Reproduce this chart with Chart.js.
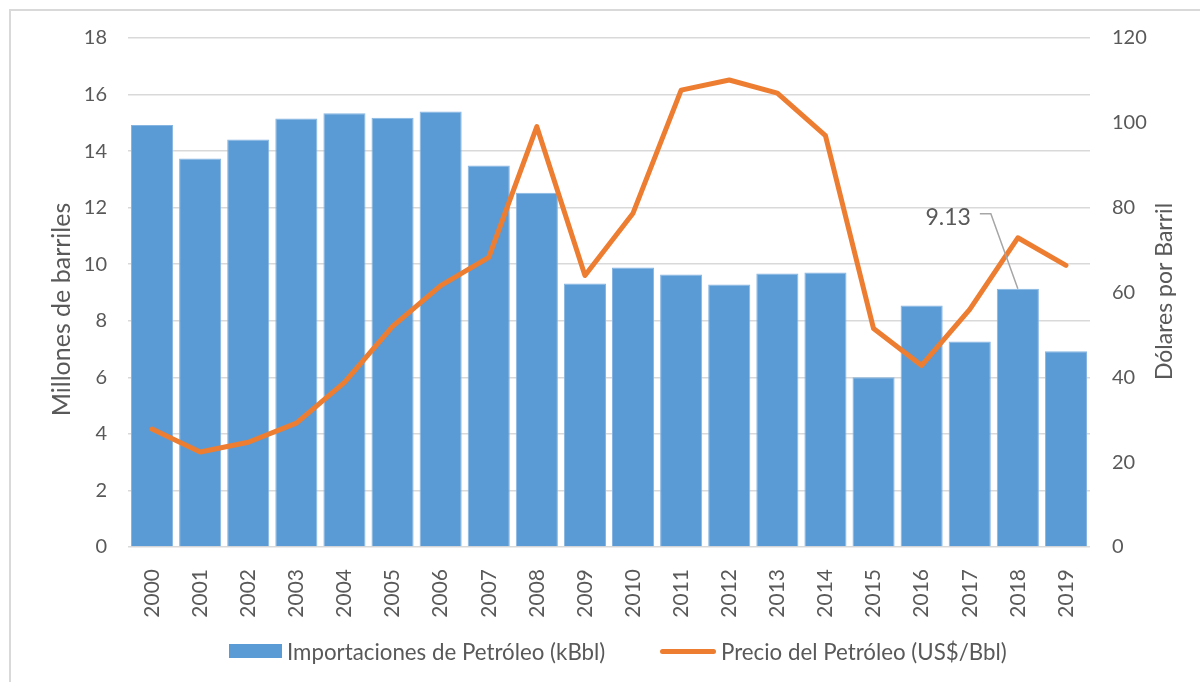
<!DOCTYPE html>
<html><head><meta charset="utf-8">
<script src="https://cdn.jsdelivr.net/npm/chart.js@4.4.1/dist/chart.umd.min.js"></script>
<style>
html,body{margin:0;padding:0;background:#fff;width:1200px;height:682px;overflow:hidden}
#wrap{position:relative;width:1200px;height:682px}
#frame{position:absolute;left:9px;top:9px;width:1300px;height:700px;border-left:2px solid #d9d9d9;border-top:2px solid #d9d9d9;box-sizing:border-box}
canvas{position:absolute;left:0;top:0}
.lg{position:absolute;top:637px;height:28px;display:flex;align-items:center;font-family:Lato,sans-serif;font-size:22.3px;color:#595959;white-space:nowrap}
.sw{display:inline-block;margin-right:5px}
</style></head><body>
<div id="wrap"><div id="frame"></div><canvas id="c" width="1200" height="682"></canvas>
<div id="legend"></div></div>
<script>
const years = ['2000','2001','2002','2003','2004','2005','2006','2007','2008','2009','2010','2011','2012','2013','2014','2015','2016','2017','2018','2019'];
const imports = [14.92, 13.74, 14.41, 15.15, 15.34, 15.18, 15.40, 13.49, 12.53, 9.32, 9.88, 9.64, 9.28, 9.67, 9.71, 6.00, 8.54, 7.27, 9.13, 6.92];
const prices = [27.8, 22.4, 24.7, 29.2, 38.8, 52.0, 61.6, 68.3, 99.1, 64.0, 78.7, 107.7, 110.1, 107.0, 97.0, 51.5, 42.8, 56.0, 72.9, 66.4];
const leftAxis = {min: 0, max: 18, step: 2, title: 'Millones de barriles'};
const rightAxis = {min: 0, max: 120, step: 20, title: 'Dólares por Barril'};
const seriesNames = ['Importaciones de Petróleo (kBbl)', 'Precio del Petróleo (US$/Bbl)'];
const annotatedIndex = 18;
const annotationText = '9.13';

const FONT = 'Lato';
const GREY = '#595959';
const BAR_COLOR = '#5B9BD5';
const LINE_COLOR = '#ED7D31';

function drawVerticalTitle(ctx, text, x, y, size) {
  ctx.save();
  ctx.translate(x, y);
  ctx.rotate(-Math.PI / 2);
  ctx.textAlign = 'center';
  ctx.textBaseline = 'middle';
  ctx.font = size + 'px ' + FONT;
  ctx.fillStyle = GREY;
  ctx.fillText(text, 0, 0);
  ctx.restore();
}

const extras = {
  id: 'extras',
  afterDatasetsDraw(chart) {
    const {ctx, scales: {x, y}, chartArea} = chart;
    const bx = x.getPixelForValue(annotatedIndex);
    const by = y.getPixelForValue(imports[annotatedIndex]);
    ctx.save();
    ctx.strokeStyle = '#a6a6a6';
    ctx.lineWidth = 1.5;
    ctx.beginPath();
    ctx.moveTo(bx, by);
    ctx.lineTo(bx - 27, by - 75);
    ctx.lineTo(bx - 38, by - 75);
    ctx.stroke();
    ctx.font = '23px ' + FONT;
    ctx.fillStyle = GREY;
    ctx.textAlign = 'right';
    ctx.textBaseline = 'middle';
    ctx.fillText(annotationText, bx - 47, by - 71);
    ctx.restore();
    const midY = (chartArea.top + chartArea.bottom) / 2;
    drawVerticalTitle(ctx, leftAxis.title, 62, midY + 17, 25);
    drawVerticalTitle(ctx, rightAxis.title, chart.width - 35, midY - 1, 23);
  }
};

const chart = new Chart(document.getElementById('c'), {
  type: 'bar',
  data: {
    labels: years,
    datasets: [
      {
        type: 'bar', label: seriesNames[0], data: imports, yAxisID: 'y', order: 2,
        backgroundColor: BAR_COLOR, borderColor: '#86B5E1', borderWidth: 1,
        barPercentage: 0.875, categoryPercentage: 1
      },
      {
        type: 'line', label: seriesNames[1], data: prices, yAxisID: 'y1', order: 1,
        borderColor: LINE_COLOR, backgroundColor: LINE_COLOR, borderWidth: 5,
        pointRadius: 0, pointHoverRadius: 0, tension: 0, borderCapStyle: 'round',
        borderJoinStyle: 'round'
      }
    ]
  },
  options: {
    responsive: false,
    animation: false,
    devicePixelRatio: 1,
    layout: {padding: {left: 10, right: 0, top: 38, bottom: 60}},
    plugins: {
      tooltip: {enabled: false},
      legend: {display: false}
    },
    scales: {
      x: {
        grid: {display: false},
        border: {display: false},
        ticks: {color: GREY, font: {family: FONT, size: 21}, minRotation: 90, maxRotation: 90, padding: 14, autoSkip: false},
        afterFit(s) { s.height = 75; }
      },
      y: {
        position: 'left', min: leftAxis.min, max: leftAxis.max,
        grid: {color: '#d9d9d9', lineWidth: 1.5, drawTicks: false},
        border: {display: false},
        ticks: {stepSize: leftAxis.step, color: GREY, font: {family: FONT, size: 20}, padding: 21},
        afterFit(s) { s.width = 118; }
      },
      y1: {
        position: 'right', min: rightAxis.min, max: rightAxis.max,
        grid: {drawOnChartArea: false, drawTicks: false},
        border: {display: false},
        ticks: {stepSize: rightAxis.step, color: GREY, font: {family: FONT, size: 20}, padding: 22},
        afterFit(s) { s.width = 110; }
      }
    }
  },
  plugins: [extras]
});

// HTML legend built from the chart's datasets
const legendEl = document.getElementById('legend');
const legendLefts = [229, 660];
chart.data.datasets.forEach((ds, i) => {
  const item = document.createElement('div');
  item.className = 'lg';
  item.style.left = legendLefts[i] + 'px';
  const sw = document.createElement('span');
  sw.className = 'sw';
  if (ds.type === 'line') {
    sw.style.cssText += 'width:56px;height:5px;border-radius:3px;background:' + ds.borderColor;
  } else {
    sw.style.cssText += 'width:53px;height:14px;background:' + ds.backgroundColor;
  }
  item.appendChild(sw);
  item.appendChild(document.createTextNode(ds.label));
  legendEl.appendChild(item);
});
</script>
</body></html>
